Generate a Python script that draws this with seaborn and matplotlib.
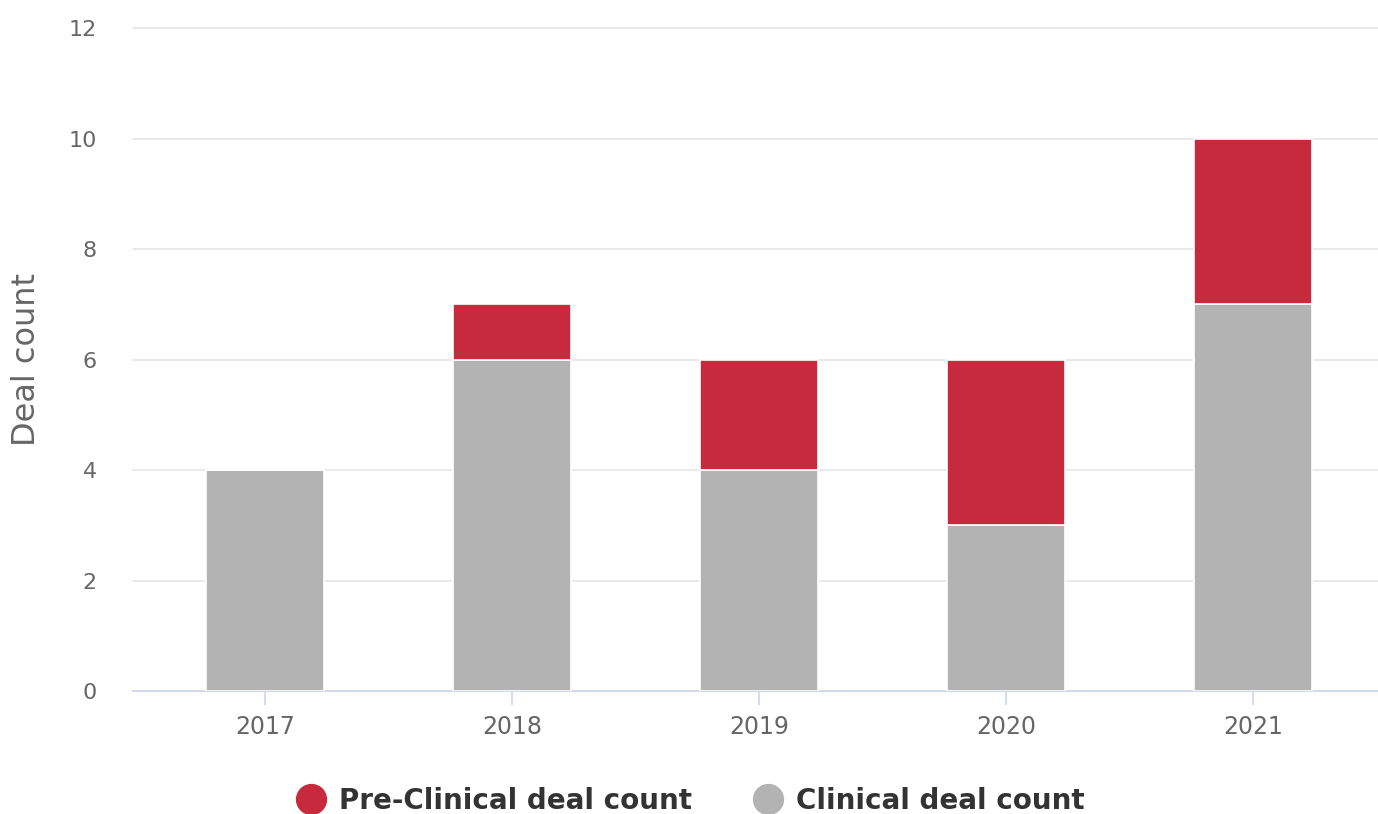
import numpy as np
import pandas as pd
import matplotlib
matplotlib.use('Agg')
import matplotlib.pyplot as plt
import seaborn as sns
from matplotlib.lines import Line2D

years = ['2017', '2018', '2019', '2020', '2021']
clinical = [4, 6, 4, 3, 7]
pre_clinical = [0, 1, 2, 3, 3]

red = '#c72a3d'
grey = '#b3b3b3'

sns.set_style('white')
plt.rcParams['font.family'] = ['DejaVu Sans']

df = pd.DataFrame({'year': years, 'clinical': clinical, 'pre': pre_clinical})

fig = plt.figure(figsize=(13.78, 8.14), dpi=100)
ax = fig.add_axes([0.0965, 0.151, 0.9035, 0.8145])

sns.barplot(data=df, x='year', y='clinical', color=grey, width=0.475,
            edgecolor='white', linewidth=1.2, saturation=1, ax=ax, zorder=3)
sns.barplot(data=df, x='year', y='pre', bottom=df['clinical'], color=red, width=0.475,
            edgecolor='white', linewidth=1.2, saturation=1, ax=ax, zorder=3)

ax.set_ylim(0, 12)
ax.set_xlim(-0.534, 4.506)
ax.set_yticks(range(0, 13, 2))
ax.yaxis.grid(True, color='#e6e6e6', linewidth=1.2, zorder=0)
for line in ax.get_ygridlines():
    line.set_clip_on(False)
ax.set_axisbelow(True)
for s in ['top', 'right', 'left']:
    ax.spines[s].set_visible(False)
ax.spines['bottom'].set_color('#ccd6eb')
ax.spines['bottom'].set_linewidth(1.2)

ax.tick_params(axis='x', bottom=True, colors='#ccd6eb', length=10, width=1.2,
               labelcolor='#666666', labelsize=17, pad=7)
ax.tick_params(axis='y', left=False, length=0, labelcolor='#666666', labelsize=16, pad=26)

ax.set_xlabel('')
ax.set_ylabel('Deal count', fontsize=23, color='#666666')
ax.yaxis.set_label_coords(-0.073, 0.5)

handles = [
    Line2D([], [], marker='o', linestyle='', markersize=21.5, color=red),
    Line2D([], [], marker='o', linestyle='', markersize=21.5, color=grey),
]
leg = fig.legend(handles, ['Pre-Clinical deal count', 'Clinical deal count'],
                 loc='center', bbox_to_anchor=(0.5007, 0.016), ncol=2, frameon=False,
                 prop={'size': 20, 'weight': 'bold'}, handletextpad=0.45,
                 columnspacing=2.2, handlelength=1.1)
for t in leg.get_texts():
    t.set_color('#333333')

fig.savefig('out.png', dpi=100)
